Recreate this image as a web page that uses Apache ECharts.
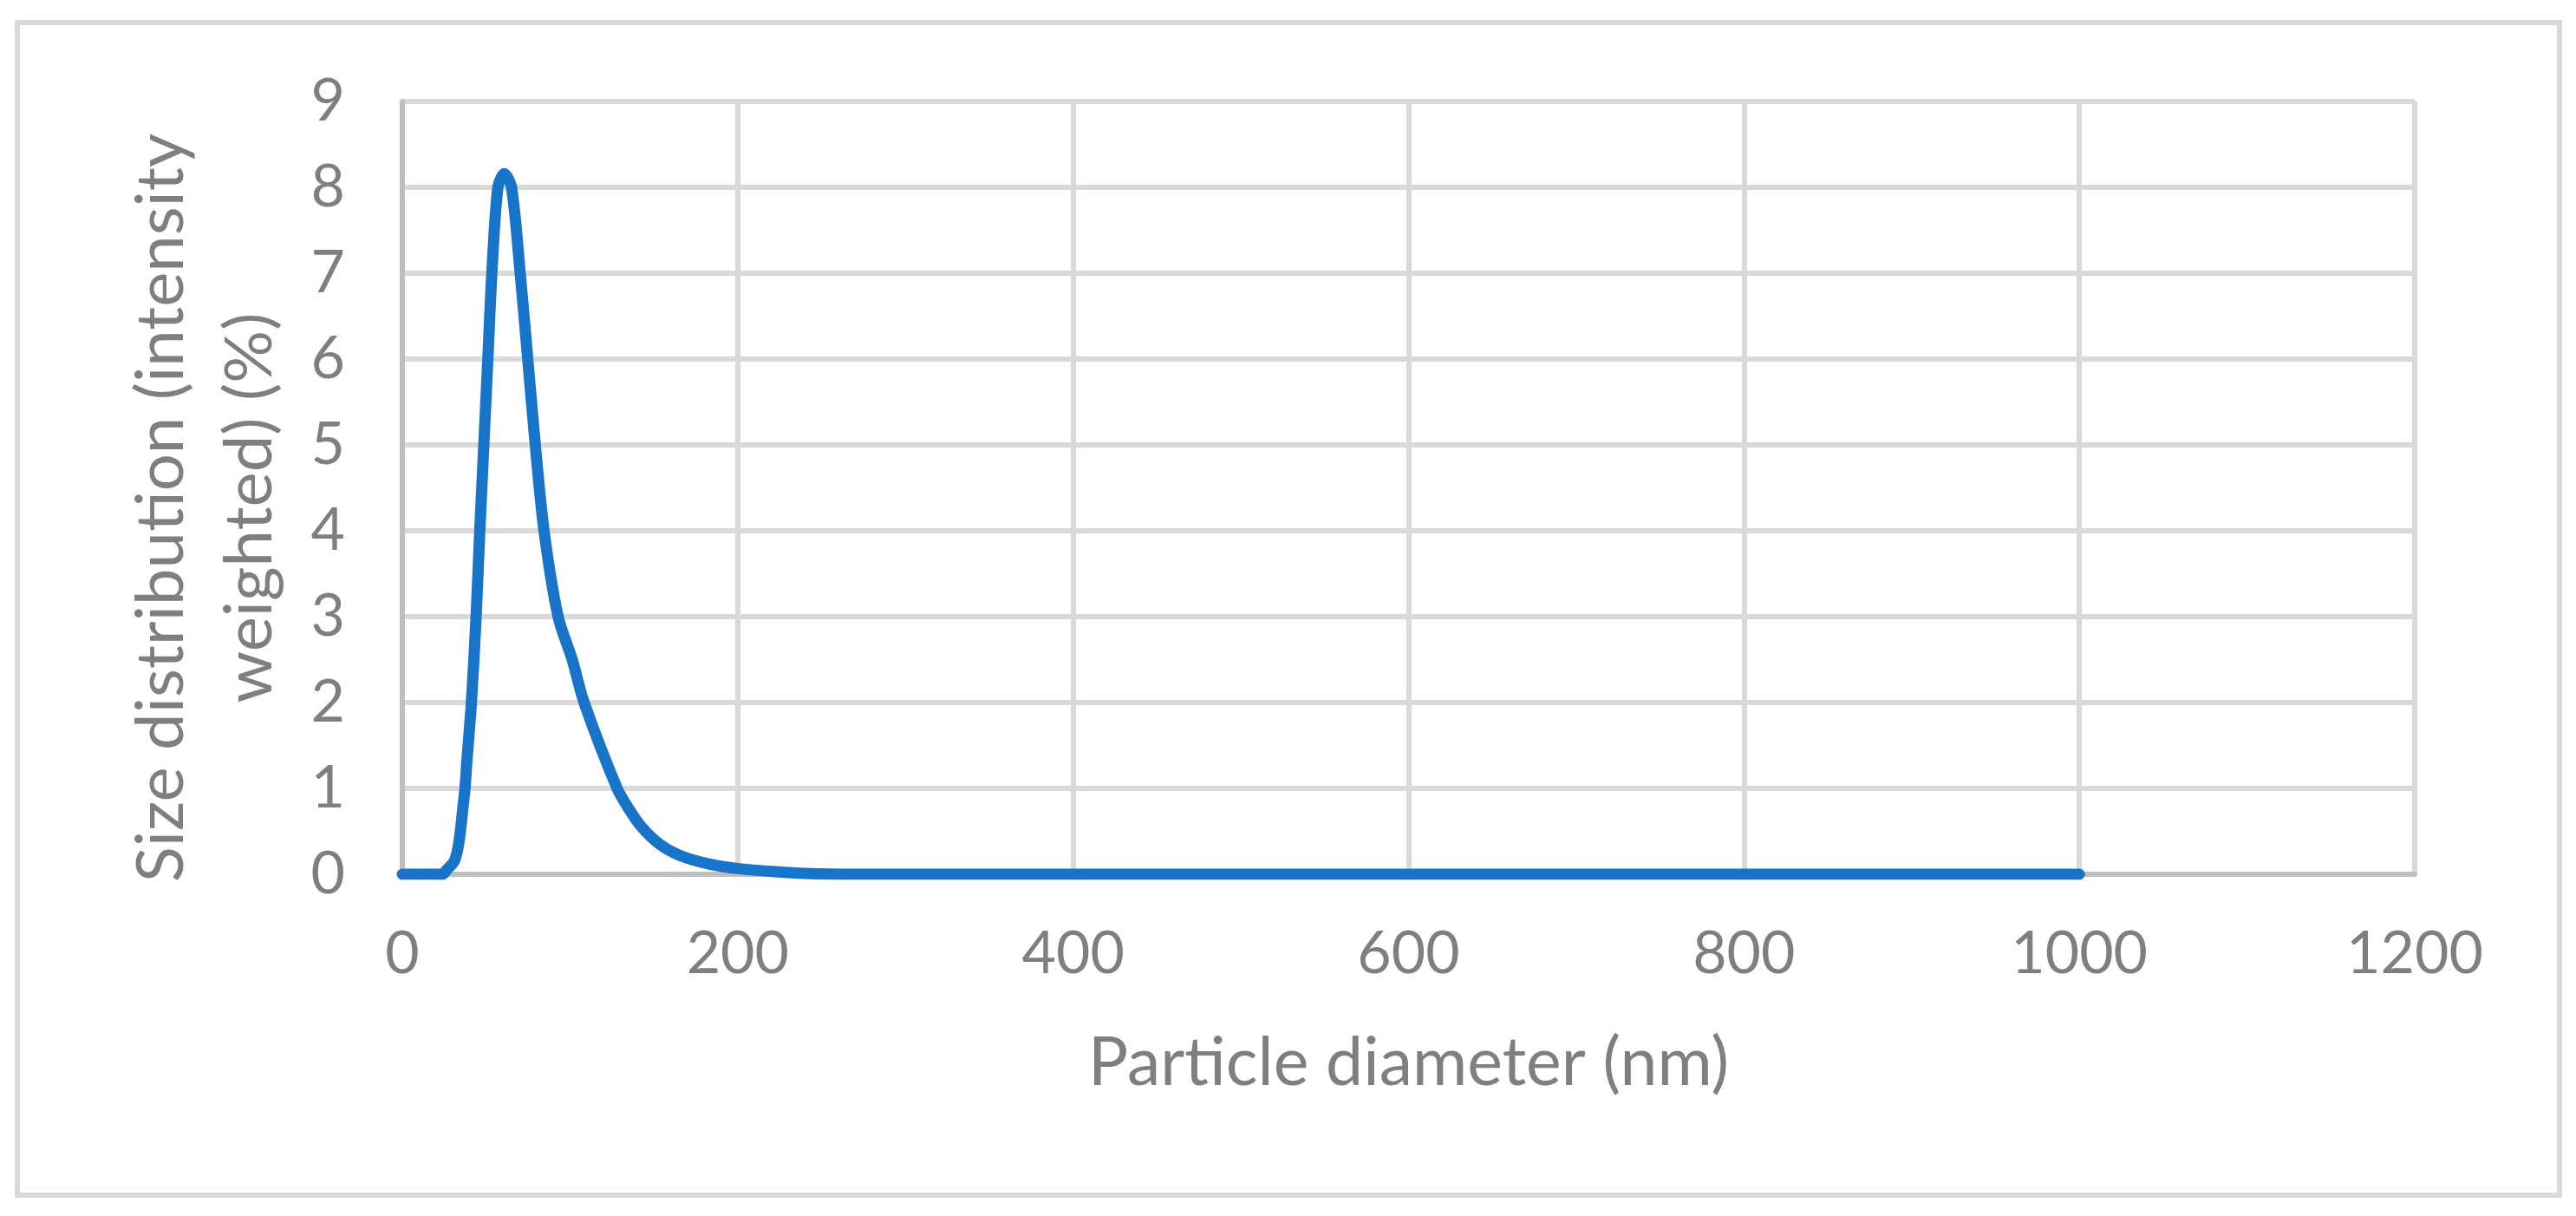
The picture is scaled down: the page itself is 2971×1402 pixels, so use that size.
<!DOCTYPE html>
<html>
<head>
<meta charset="utf-8">
<title>Particle size distribution</title>
<script src="https://cdn.jsdelivr.net/npm/echarts@6/dist/echarts.min.js"></script>
<style>
  html, body { margin: 0; padding: 0; background: #fff; }
  #chart { width: 2971px; height: 1402px; }
</style>
</head>
<body>
<div id="chart"></div>
<script>
// particle diameter (nm) and intensity weighted size distribution (%)
const diameters = [0, 10, 20, 24, 26.4, 30.9, 32.9, 34.3, 35.3, 36.2, 37.4, 38.4, 41.2, 44.0, 46.2, 48.6, 51.0, 53.4,
  57.0, 60.8, 65.1, 70.3, 74.8, 79.3, 84.5, 92.9, 101.3, 108.4, 128.1, 135.3, 142.7, 153.4, 166,
  184, 201, 222, 240, 270, 300, 400, 500, 600, 700, 800, 900, 1000];
const intensity = [0, 0, 0, 0, 0.05, 0.15, 0.28, 0.45, 0.62, 0.79, 1, 1.29, 2, 3, 4, 5, 6, 7,
  8, 8.16, 8, 7, 6, 5, 4, 3, 2.5, 2, 1, 0.755, 0.55, 0.35, 0.215,
  0.115, 0.064, 0.03, 0.01, 0, 0, 0, 0, 0, 0, 0, 0, 0];

const xTicks = { min: 0, max: 1200, interval: 200 };
const yTicks = { min: 0, max: 9, interval: 1 };

const textColor = '#7f7f7f';
const gridColor = '#d9d9d9';
const axisColor = '#bfbfbf';
const fontFamily = 'Lato, sans-serif';

const chart = echarts.init(document.getElementById('chart'));

chart.setOption({
  animation: false,
  backgroundColor: '#fff',
  graphic: [
    {
      type: 'rect',
      shape: { x: 20, y: 26, width: 2932, height: 1352 },
      style: { fill: 'none', stroke: gridColor, lineWidth: 6 },
      silent: true
    }
  ],
  grid: {
    left: 464,
    right: 186,
    top: 117,
    bottom: 394
  },
  xAxis: {
    type: 'value',
    min: xTicks.min,
    max: xTicks.max,
    interval: xTicks.interval,
    name: 'Particle diameter (nm)',
    nameLocation: 'middle',
    nameGap: 180,
    nameTextStyle: { color: textColor, fontSize: 77, fontFamily: fontFamily },
    axisLine: { show: true, lineStyle: { color: axisColor, width: 6 } },
    axisTick: { show: false },
    axisLabel: {
      color: textColor,
      fontSize: 68,
      fontFamily: fontFamily,
      margin: 58,
      formatter: v => String(v)
    },
    splitLine: { show: true, lineStyle: { color: gridColor, width: 6 } }
  },
  yAxis: {
    type: 'value',
    min: yTicks.min,
    max: yTicks.max,
    interval: yTicks.interval,
    name: 'Size distribution (intensity\nweighted) (%)',
    nameLocation: 'middle',
    nameGap: 125,
    nameTextStyle: {
      color: textColor,
      fontSize: 76,
      fontFamily: fontFamily,
      lineHeight: 102,
      padding: [0, 46, 0, 0]
    },
    axisLine: { show: true, lineStyle: { color: axisColor, width: 6 } },
    axisTick: { show: false },
    axisLabel: { color: textColor, fontSize: 68, fontFamily: fontFamily, margin: 66 },
    splitLine: { show: true, lineStyle: { color: gridColor, width: 6 } }
  },
  series: [
    {
      type: 'line',
      data: diameters.map((d, i) => [d, intensity[i]]),
      smooth: 0.3,
      showSymbol: false,
      symbol: 'none',
      lineStyle: { color: '#1874c9', width: 13, cap: 'round', join: 'round' }
    }
  ]
});

window.addEventListener('resize', () => chart.resize());
</script>
</body>
</html>
